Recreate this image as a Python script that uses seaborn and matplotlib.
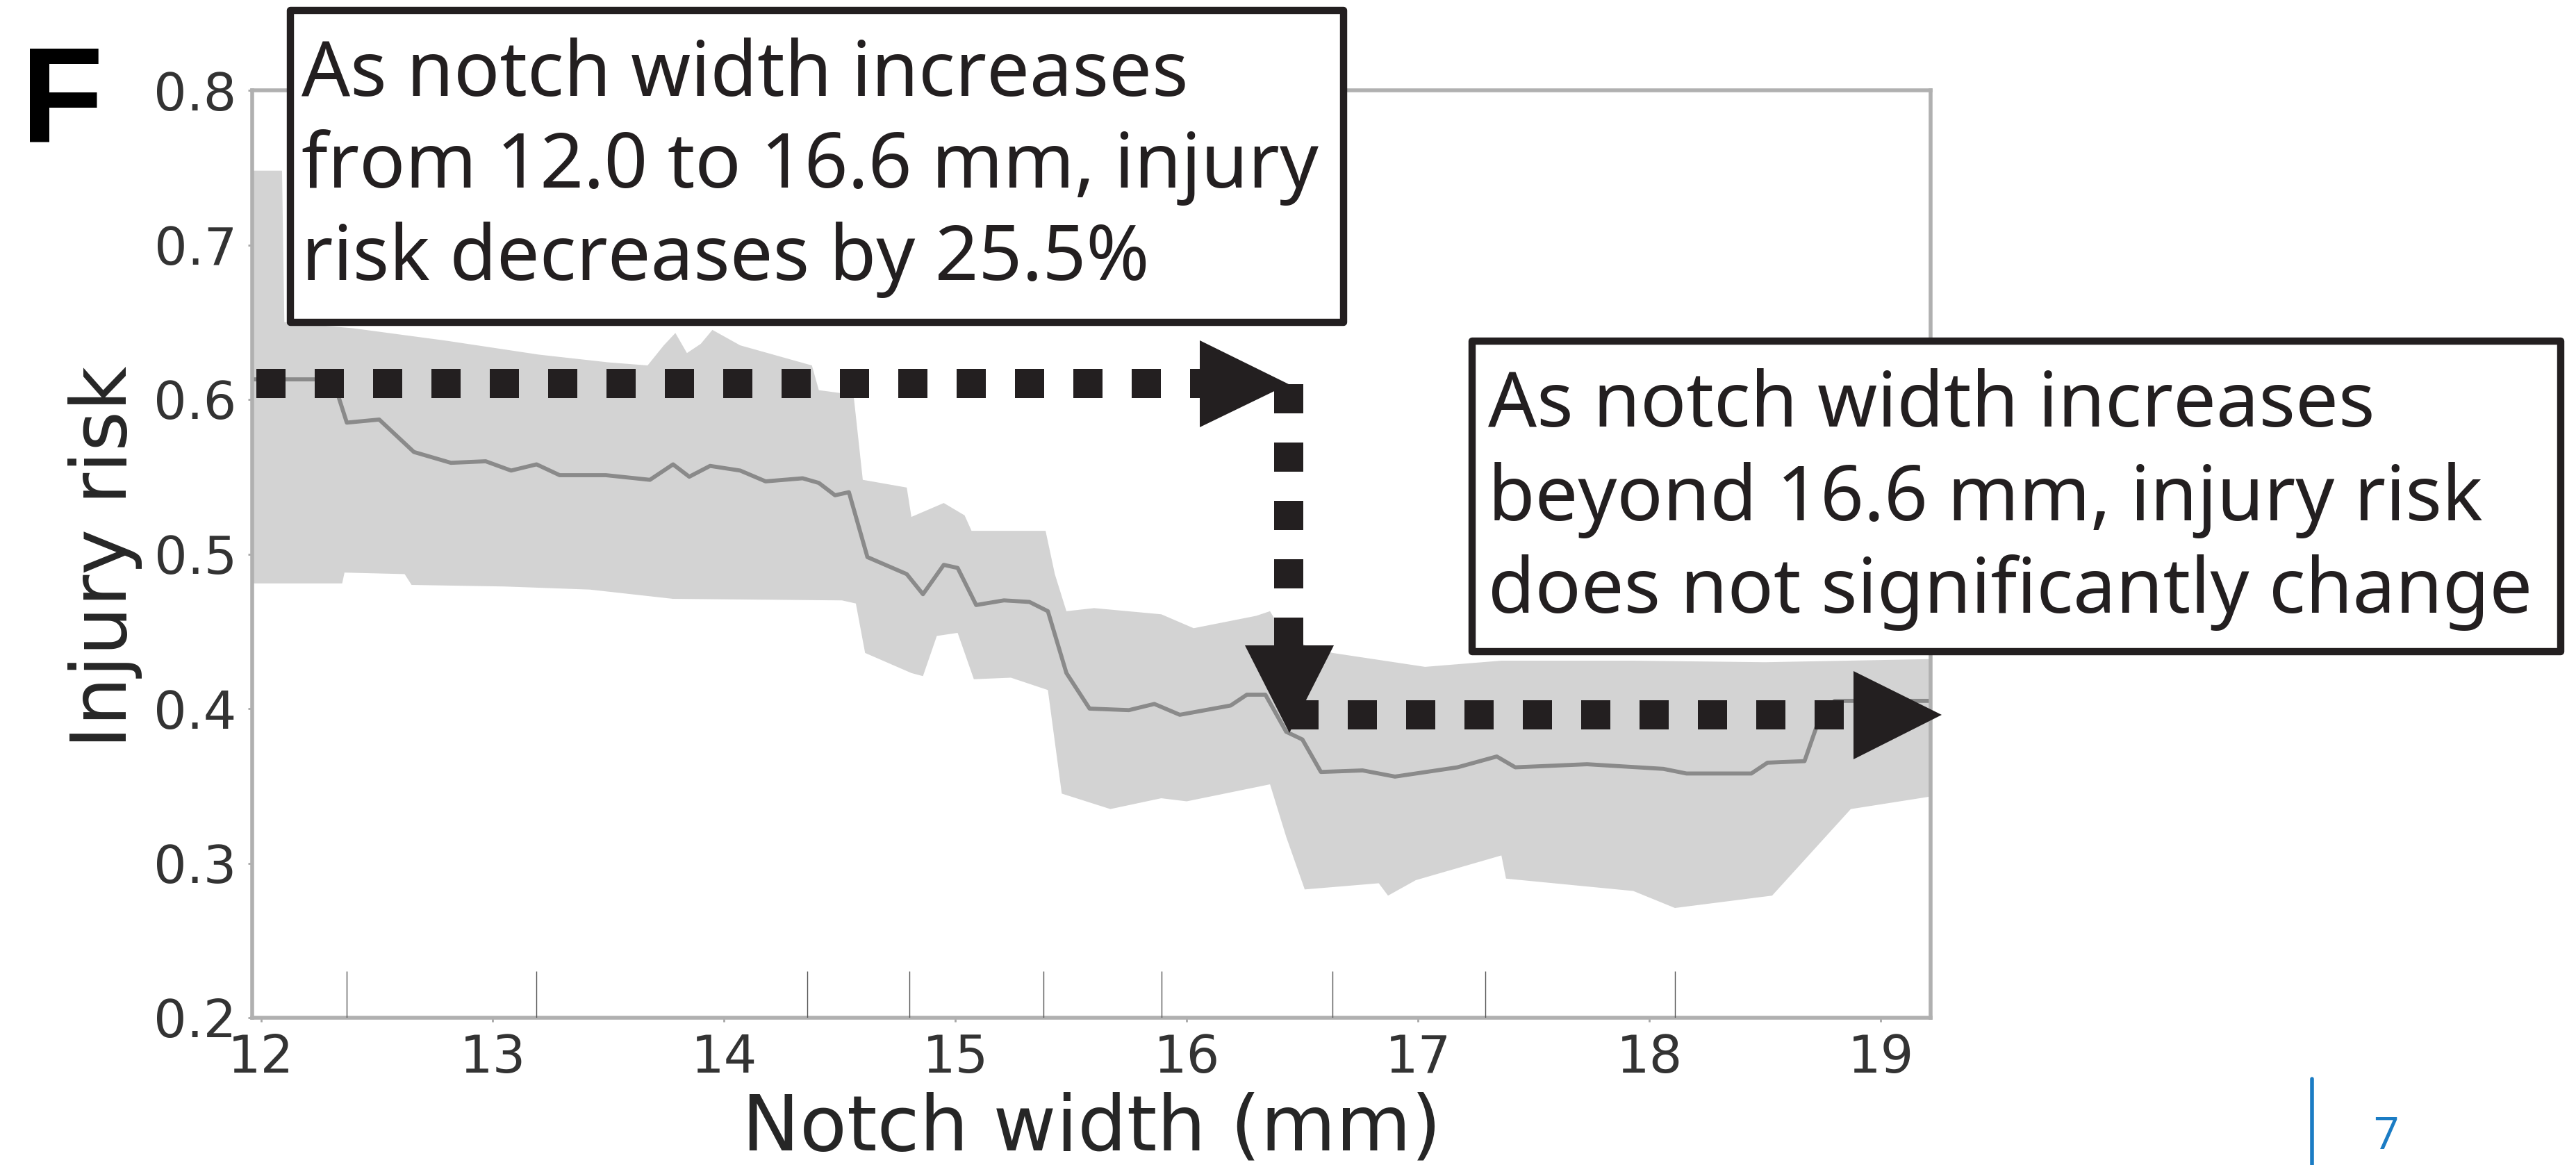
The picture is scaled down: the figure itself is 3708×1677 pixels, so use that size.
import matplotlib
matplotlib.use("Agg")
import matplotlib.pyplot as plt
from matplotlib.patches import Rectangle, Polygon
import numpy as np
import pandas as pd
import seaborn as sns

# ---- data -------------------------------------------------------------
# mean injury risk vs notch width
mean_x = [11.96, 12.31, 12.37, 12.51, 12.66, 12.82, 12.97, 13.08, 13.19, 13.29,
          13.49, 13.68, 13.78, 13.85, 13.94, 14.07, 14.18, 14.34, 14.41, 14.48,
          14.54, 14.62, 14.79, 14.86, 14.95, 15.01, 15.09, 15.21, 15.32, 15.40,
          15.48, 15.58, 15.75, 15.86, 15.97, 16.19, 16.26, 16.34, 16.43, 16.50,
          16.58, 16.76, 16.90, 17.17, 17.34, 17.42, 17.73, 18.06, 18.16, 18.44,
          18.51, 18.67, 18.74, 18.80, 19.21]
mean_y = [0.613, 0.613, 0.585, 0.587, 0.566, 0.559, 0.560, 0.554, 0.558, 0.551,
          0.551, 0.548, 0.558, 0.550, 0.557, 0.554, 0.547, 0.549, 0.546, 0.538,
          0.540, 0.498, 0.487, 0.474, 0.493, 0.491, 0.467, 0.470, 0.469, 0.463,
          0.423, 0.400, 0.399, 0.403, 0.396, 0.402, 0.409, 0.409, 0.385, 0.380,
          0.359, 0.360, 0.356, 0.362, 0.369, 0.362, 0.364, 0.361, 0.358, 0.358,
          0.365, 0.366, 0.396, 0.405, 0.405]

# upper edge of the confidence band
upper_x = [11.96, 12.09, 12.10, 12.40, 12.80, 13.20, 13.50, 13.67, 13.74, 13.79,
           13.84, 13.90, 13.95, 14.07, 14.38, 14.41, 14.56, 14.60, 14.79, 14.81,
           14.95, 15.04, 15.07, 15.39, 15.43, 15.48, 15.60, 15.89, 16.03, 16.30,
           16.36, 16.40, 16.52, 16.63, 17.03, 17.36, 17.93, 18.50, 19.21]
upper_y = [0.748, 0.748, 0.650, 0.646, 0.638, 0.629, 0.624, 0.622, 0.635, 0.643,
           0.630, 0.636, 0.645, 0.635, 0.622, 0.606, 0.603, 0.548, 0.543, 0.524,
           0.533, 0.525, 0.515, 0.515, 0.487, 0.463, 0.465, 0.461, 0.452, 0.460,
           0.463, 0.453, 0.440, 0.436, 0.427, 0.431, 0.431, 0.430, 0.432]

# lower edge of the confidence band
lower_x = [11.96, 12.35, 12.36, 12.62, 12.65, 13.05, 13.42, 13.60, 13.78, 14.51,
           14.57, 14.61, 14.81, 14.86, 14.92, 15.01, 15.08, 15.24, 15.40, 15.46,
           15.67, 15.89, 16.00, 16.36, 16.43, 16.51, 16.83, 16.87, 16.99, 17.36,
           17.38, 17.93, 18.11, 18.53, 18.87, 19.21]
lower_y = [0.481, 0.481, 0.488, 0.487, 0.480, 0.479, 0.477, 0.474, 0.471, 0.470,
           0.468, 0.436, 0.423, 0.421, 0.447, 0.449, 0.419, 0.420, 0.412, 0.345,
           0.335, 0.342, 0.340, 0.351, 0.317, 0.283, 0.287, 0.279, 0.289, 0.305,
           0.290, 0.282, 0.271, 0.279, 0.335, 0.343]

# observed notch widths (rug)
rug_x = [12.37, 13.19, 14.36, 14.80, 15.38, 15.89, 16.63, 17.29, 18.11]

x_ticks = [12, 13, 14, 15, 16, 17, 18, 19]
y_ticks = [0.2, 0.3, 0.4, 0.5, 0.6, 0.7, 0.8]

note_left = ["As notch width increases",
             "from 12.0 to 16.6 mm, injury",
             "risk decreases by 25.5%"]
note_right = ["As notch width increases",
              "beyond 16.6 mm, injury risk",
              "does not significantly change"]

# ---- figure -----------------------------------------------------------
W, H = 3708, 1677
sns.set_theme(style="white")
plt.rcParams["font.family"] = ["DejaVu Sans"]

fig = plt.figure(figsize=(W / 100, H / 100), dpi=100)
fig.patch.set_facecolor("white")

ax = fig.add_axes([363 / W, 1 - 1465 / H, (2779 - 363) / W, (1465 - 130) / H])

band = np.r_[upper_x, lower_x[::-1]], np.r_[upper_y, lower_y[::-1]]
ax.fill(band[0], band[1], color="#d3d3d3", lw=0, zorder=1)

df = pd.DataFrame({"width": mean_x, "risk": mean_y})
sns.lineplot(data=df, x="width", y="risk", ax=ax, color="#8a8a8a",
             lw=4.2, zorder=2, estimator=None, sort=False)

sns.rugplot(x=rug_x, ax=ax, height=0.05, color="#555555", lw=4.2, zorder=3)

ax.set_xlim(11.961, 19.215)
ax.set_ylim(0.2, 0.8)
ax.set_xticks(x_ticks)
ax.set_xticklabels([str(t) for t in x_ticks])
ax.set_yticks(y_ticks)
ax.set_yticklabels([f"{t:.1f}" for t in y_ticks])
ax.tick_params(axis="both", labelsize=54, labelcolor="#333333",
               color="#a8a8a8", length=4, width=2, direction="out", pad=12,
               bottom=True, left=True)
for sp in ax.spines.values():
    sp.set_color("#b0b0b0")
    sp.set_linewidth(4)

ax.set_xlabel("Notch width (mm)", fontsize=80, color="#262626")
ax.set_ylabel("Injury risk", fontsize=80, color="#262626")
ax.xaxis.label.set_va("center")
ax.yaxis.label.set_va("center")
ax.xaxis.set_label_coords(0.5, -0.12)
ax.yaxis.set_label_coords(-0.0877, 0.497)

# ---- annotation layer in pixel space ------------------------------------
ov = fig.add_axes([0, 0, 1, 1], zorder=5)
ov.set_xlim(0, W)
ov.set_ylim(H, 0)
ov.axis("off")
ov.patch.set_alpha(0)

ink = "#231f20"
note_font = ["Noto Sans", "DejaVu Sans"]

ov.add_patch(Rectangle((418, 15), 1516, 449, fc="white", ec=ink, lw=7.5,
                       joinstyle="round"))
ov.add_patch(Rectangle((2119, 491), 1567, 447, fc="white", ec=ink, lw=7.5,
                       joinstyle="round"))

for txt, yb in zip(note_left, [138, 270, 403]):
    ov.text(434, yb, txt, fontsize=79, family=note_font, color=ink,
            va="baseline", ha="left")
for txt, yb in zip(note_right, [614, 749, 882]):
    ov.text(2142, yb, txt, fontsize=79, family=note_font, color=ink,
            va="baseline", ha="left")

dot_lw = 42 * 72 / 100  # 42 px square dots
dot_kw = dict(color=ink, lw=dot_lw, dashes=(1, 1), solid_capstyle="butt",
              dash_capstyle="butt")
ov.plot([369, 1727], [552, 552], **dot_kw)
ov.plot([1855, 1855], [553, 929], **dot_kw)
ov.plot([1856, 2668], [1029, 1029], **dot_kw)

ov.add_patch(Polygon([(1727, 490), (1855, 553), (1727, 615)], closed=True,
                     fc=ink, ec="none"))
ov.add_patch(Polygon([(1792, 929), (1920, 929), (1856, 1055)], closed=True,
                     fc=ink, ec="none"))
ov.add_patch(Polygon([(2668, 966), (2795, 1029), (2668, 1093)], closed=True,
                     fc=ink, ec="none"))

# panel letter
ov.text(30, 203, "F", fontsize=140, fontweight="bold",
        family=["Liberation Sans", "DejaVu Sans"], color="black",
        va="baseline", ha="left")

# page number
blue = "#1b7cc4"
ov.plot([3328, 3328], [1553, 1677], color=blue, lw=4)
ov.text(3416, 1654, "7", fontsize=46, family=["Open Sans", "DejaVu Sans"],
        color=blue, va="baseline", ha="left")

fig.savefig("out.png", dpi=100, facecolor="white")
